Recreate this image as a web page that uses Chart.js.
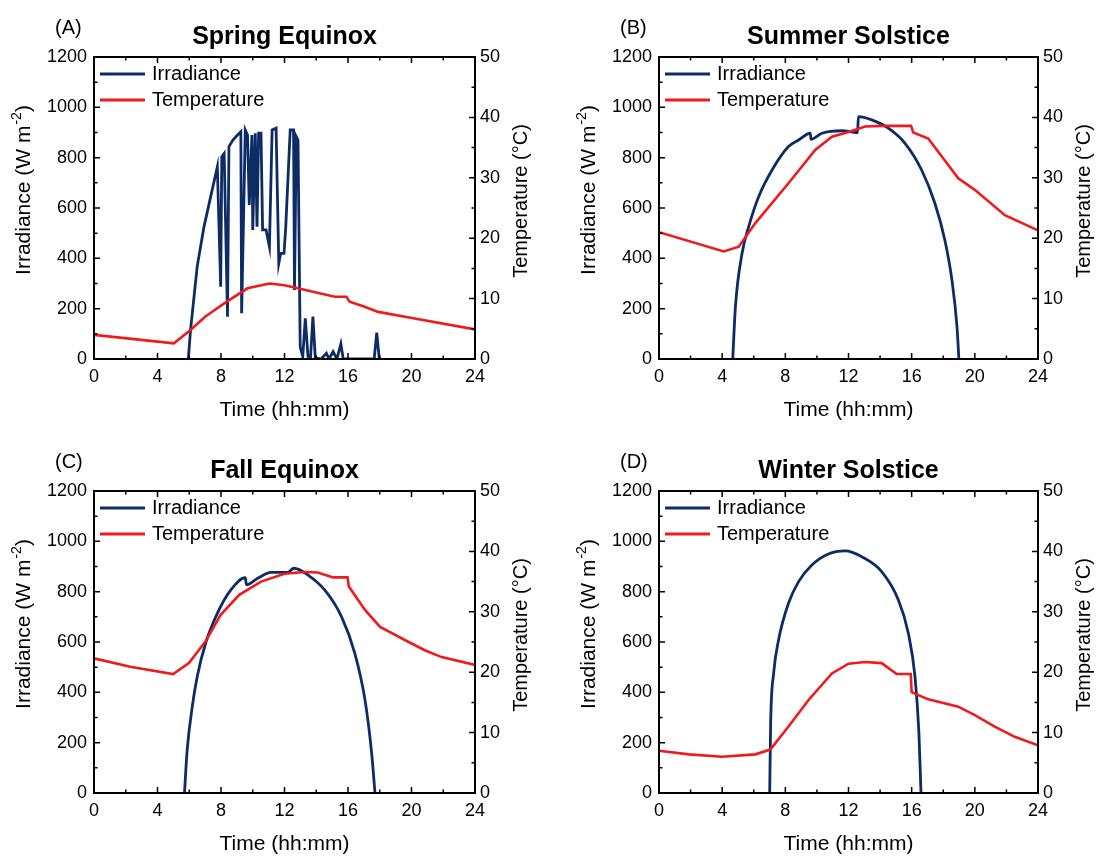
<!DOCTYPE html>
<html>
<head>
<meta charset="utf-8">
<title>Irradiance and temperature</title>
<script src="https://cdn.jsdelivr.net/npm/chart.js@4.4.1/dist/chart.umd.min.js"></script>
<style>
  html, body { margin: 0; padding: 0; background: #fff; overflow: hidden; }
  #fig { position: relative; width: 1099px; height: 857px; }
  #fig canvas { position: absolute; }
</style>
</head>
<body>
<div id="fig">
  <canvas id="chartA" width="548" height="430" style="left:0px;top:0px"></canvas>
  <canvas id="chartB" width="534" height="430" style="left:565px;top:0px"></canvas>
  <canvas id="chartC" width="548" height="423" style="left:0px;top:434px"></canvas>
  <canvas id="chartD" width="534" height="423" style="left:565px;top:434px"></canvas>
</div>
<script>
// ---- data (hours, W m-2, deg C) ----
const xTickValues = [0, 4, 8, 12, 16, 20, 24];
const irrTickValues = [0, 200, 400, 600, 800, 1000, 1200];
const tempTickValues = [0, 10, 20, 30, 40, 50];

// (A) spring equinox
const springIrrHours = [5.94, 6.08, 6.5, 6.93, 7.35, 7.77, 7.98, 8.05, 8.2, 8.41, 8.5, 8.75, 9.04, 9.25, 9.3, 9.53, 9.67, 9.78, 9.95, 10.0,
  10.16, 10.27, 10.37, 10.52, 10.62, 10.84, 11.05, 11.22, 11.47, 11.64, 11.76, 11.97, 12.08, 12.36, 12.57, 12.63, 12.74, 12.85, 12.99, 13.15,
  13.31, 13.48, 13.64, 13.79, 13.94, 14.3, 14.64, 14.8, 15.06, 15.3, 15.55, 15.7, 17.65, 17.81, 17.97];
const springIrr = [0, 115, 367, 526, 645, 764, 287, 804, 817, 168, 844, 870, 890, 903, 182, 910, 890, 612, 890, 513,
  897, 526, 897, 897, 513, 513, 446, 910, 917, 380, 420, 420, 526, 910, 910, 274, 884, 870, 47, 10,
  162, 10, 5, 169, 5, 0, 23, 0, 29, 0, 60, 0, 0, 105, 0];
const springTempHours = [0, 5.03, 6.08, 7.0, 8.2, 9.67, 11.05, 12.0, 12.84, 14.0, 15.17, 15.9, 16.1, 17.0, 17.9, 20.2, 24];
const springTemp = [4.0, 2.6, 4.8, 7.0, 9.2, 11.7, 12.5, 12.2, 11.7, 11.0, 10.3, 10.3, 9.5, 8.7, 7.8, 6.7, 4.9];

// (B) summer solstice
const summerIrrHours = [4.67, 4.84, 5.26, 5.68, 6.31, 7.16, 8.2, 8.84, 9.58, 9.62, 10.32, 11.58, 12.57, 12.63, 13.47, 14.52, 15.58, 16.63, 17.47, 18.1, 18.55, 18.87, 18.99];
const summerIrr = [0, 208, 420, 526, 645, 751, 844, 870, 897, 873, 897, 907, 899, 963, 950, 917, 857, 751, 619, 473, 314, 128, 0];
const summerTempHours = [0, 4.1, 5.05, 6.1, 8.2, 9.89, 10.95, 12.0, 13.05, 14.1, 15.96, 16.1, 17.05, 18.95, 20.0, 21.9, 24];
const summerTemp = [21.0, 17.8, 18.6, 22.5, 29.1, 34.6, 36.8, 37.6, 38.5, 38.6, 38.6, 37.5, 36.5, 29.9, 28.0, 23.8, 21.3];

// (C) fall equinox
const fallIrrHours = [5.7, 5.87, 6.19, 6.5, 7.03, 7.77, 8.62, 9.53, 9.6, 10.31, 11.15, 12.21, 12.59, 13.48, 14.53, 15.59, 16.43, 17.07, 17.49, 17.7];
const fallIrr = [0, 171, 343, 462, 595, 714, 807, 856, 827, 853, 877, 877, 893, 866, 807, 701, 555, 370, 158, 0];
const fallTempHours = [0, 2.28, 4.98, 5.98, 7.03, 7.98, 9.15, 10.52, 12.0, 13.26, 14.1, 15.06, 15.97, 16.05, 17.07, 18.02, 19.82, 20.87, 21.9, 24];
const fallTemp = [22.3, 20.9, 19.7, 21.5, 25.1, 29.5, 32.8, 35.0, 36.3, 36.6, 36.5, 35.7, 35.7, 34.2, 30.3, 27.5, 25.0, 23.6, 22.5, 21.2];

// (D) winter solstice
const winterIrrHours = [7.01, 7.07, 7.26, 7.57, 8.2, 8.84, 9.68, 10.73, 11.79, 12.84, 14.1, 15.16, 15.79, 16.21, 16.46, 16.59];
const winterIrr = [0, 277, 476, 608, 754, 840, 906, 950, 962, 939, 880, 767, 635, 462, 237, 0];
const winterTempHours = [0, 1.89, 4.0, 6.1, 7.05, 8.2, 9.47, 10.95, 12.0, 13.05, 14.1, 15.05, 15.94, 16.0, 17.05, 18.95, 20.0, 21.26, 22.53, 24];
const winterTemp = [7.0, 6.4, 6.0, 6.4, 7.2, 11.0, 15.4, 19.8, 21.4, 21.7, 21.5, 19.7, 19.7, 16.7, 15.5, 14.3, 12.9, 11.0, 9.3, 7.9];

const NAVY = '#0d2c66';
const RED = '#ee1a1c';
const FONT = "'Liberation Sans', Arial, Helvetica, sans-serif";

Chart.defaults.font.family = FONT;
Chart.defaults.color = '#000';

function toPoints(xs, ys) {
  return xs.map((x, i) => ({ x: x, y: ys[i] }));
}

function withMinor(major) {
  const out = [];
  for (let i = 0; i < major.length; i++) {
    out.push({ v: major[i], major: true });
    if (i < major.length - 1) out.push({ v: (major[i] + major[i + 1]) / 2, major: false });
  }
  return out;
}

// frame, inward ticks, legend, letters and the two rotated axis titles
const panelDecor = {
  id: 'panelDecor',
  afterDraw(chart, args, opts) {
    const { ctx, chartArea: a, scales } = chart;
    ctx.save();
    ctx.strokeStyle = '#000';
    ctx.lineWidth = 2;
    ctx.strokeRect(a.left, a.top, a.right - a.left, a.bottom - a.top);

    ctx.lineWidth = 1.5;
    ctx.beginPath();
    withMinor(xTickValues).forEach(t => {
      const px = scales.x.getPixelForValue(t.v);
      const len = t.major ? 6 : 3.5;
      ctx.moveTo(px, a.bottom); ctx.lineTo(px, a.bottom - len);
      ctx.moveTo(px, a.top); ctx.lineTo(px, a.top + len);
    });
    withMinor(irrTickValues).forEach(t => {
      const py = scales.y.getPixelForValue(t.v);
      ctx.moveTo(a.left, py); ctx.lineTo(a.left + (t.major ? 6 : 3.5), py);
    });
    withMinor(tempTickValues).forEach(t => {
      const py = scales.y2.getPixelForValue(t.v);
      ctx.moveTo(a.right, py); ctx.lineTo(a.right - (t.major ? 6 : 3.5), py);
    });
    ctx.stroke();

    // legend inside the plot, top left
    ctx.font = '20px ' + FONT;
    ctx.textBaseline = 'middle';
    ctx.textAlign = 'left';
    chart.data.datasets.forEach((ds, i) => {
      const y = a.top + 17 + i * 26;
      ctx.strokeStyle = ds.borderColor;
      ctx.lineWidth = 3;
      ctx.beginPath();
      ctx.moveTo(a.left + 6, y);
      ctx.lineTo(a.left + 51, y);
      ctx.stroke();
      ctx.fillStyle = '#000';
      ctx.fillText(ds.label, a.left + 58, y);
    });

    // panel letter
    ctx.font = '20px ' + FONT;
    ctx.fillText(opts.letter, 55, 28);

    // left axis title with superscript
    const midY = (a.top + a.bottom) / 2;
    ctx.save();
    ctx.translate(a.left - 70, midY - 18);
    ctx.rotate(-Math.PI / 2);
    const main = 'Irradiance (W m';
    const sup = '-2';
    const tail = ')';
    ctx.font = '21px ' + FONT;
    const w1 = ctx.measureText(main).width;
    const w3 = ctx.measureText(tail).width;
    ctx.font = '14px ' + FONT;
    const w2 = ctx.measureText(sup).width + 1;
    const x0 = -(w1 + w2 + w3) / 2;
    ctx.font = '21px ' + FONT;
    ctx.fillText(main, x0, 0);
    ctx.font = '14px ' + FONT;
    ctx.fillText(sup, x0 + w1 + 1, -7);
    ctx.font = '21px ' + FONT;
    ctx.fillText(tail, x0 + w1 + w2, 0);
    ctx.restore();

    // right axis title, reading bottom to top
    ctx.save();
    ctx.translate(a.right + 46, midY - 7);
    ctx.rotate(-Math.PI / 2);
    ctx.font = '20px ' + FONT;
    ctx.textAlign = 'center';
    ctx.fillText('Temperature (\u00B0C)', 0, 0);
    ctx.restore();

    ctx.restore();
  }
};

function makePanel(id, letter, title, irrHours, irr, tempHours, temp, plotRight, smoothIrr) {
  const canvas = document.getElementById(id);
  const W = canvas.width, H = canvas.height;
  const xTitleY = 410;
  new Chart(canvas, {
    type: 'line',
    data: {
      datasets: [
        { label: 'Irradiance', data: toPoints(irrHours, irr), yAxisID: 'y', borderColor: NAVY, backgroundColor: NAVY,
          borderWidth: 2.8, pointRadius: 0, cubicInterpolationMode: smoothIrr ? 'monotone' : 'default', tension: 0, order: 1 },
        { label: 'Temperature', data: toPoints(tempHours, temp), yAxisID: 'y2', borderColor: RED, backgroundColor: RED,
          borderWidth: 2.6, pointRadius: 0, tension: 0, order: 0 }
      ]
    },
    options: {
      responsive: false,
      animation: false,
      layout: { padding: 0 },
      plugins: {
        legend: { display: false },
        tooltip: { enabled: false },
        title: {
          display: true,
          text: title,
          fullSize: false,
          font: { size: 25, weight: 'bold', lineHeight: 1 },
          padding: { top: 25, bottom: 7 }
        },
        panelDecor: { letter: letter }
      },
      scales: {
        x: {
          type: 'linear', position: 'bottom', min: 0, max: 24,
          afterBuildTicks: s => { s.ticks = xTickValues.map(v => ({ value: v })); },
          ticks: { padding: 7, font: { size: 18 }, maxRotation: 0, autoSkip: false, callback: v => String(v) },
          grid: { display: false, drawTicks: false },
          border: { display: false },
          title: { display: true, text: 'Time (hh:mm)', font: { size: 21, lineHeight: 1.2 },
                   padding: { top: 0, bottom: H - xTitleY - 12.6 } },
          afterFit: s => { s.height = H - 359; }
        },
        y: {
          position: 'left', min: 0, max: 1200,
          afterBuildTicks: s => { s.ticks = irrTickValues.map(v => ({ value: v })); },
          ticks: { padding: 7, font: { size: 18 }, callback: v => String(v) },
          grid: { display: false, drawTicks: false },
          border: { display: false },
          afterFit: s => { s.width = 94; }
        },
        y2: {
          position: 'right', min: 0, max: 50,
          afterBuildTicks: s => { s.ticks = tempTickValues.map(v => ({ value: v })); },
          ticks: { padding: 5, font: { size: 18 }, callback: v => String(v) },
          grid: { display: false, drawTicks: false },
          border: { display: false },
          afterFit: s => { s.width = W - plotRight; }
        }
      }
    },
    plugins: [panelDecor]
  });
}

makePanel('chartA', '(A)', 'Spring Equinox', springIrrHours, springIrr, springTempHours, springTemp, 475, false);
makePanel('chartB', '(B)', 'Summer Solstice', summerIrrHours, summerIrr, summerTempHours, summerTemp, 473, true);
makePanel('chartC', '(C)', 'Fall Equinox', fallIrrHours, fallIrr, fallTempHours, fallTemp, 475, true);
makePanel('chartD', '(D)', 'Winter Solstice', winterIrrHours, winterIrr, winterTempHours, winterTemp, 473, true);
</script>
</body>
</html>
